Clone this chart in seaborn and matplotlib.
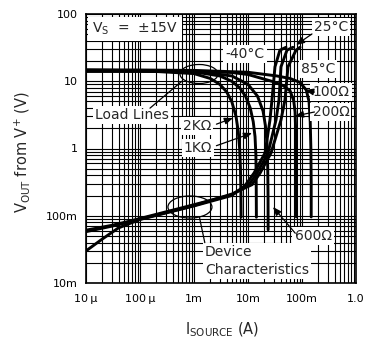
import matplotlib
matplotlib.use("Agg")
import matplotlib.pyplot as plt
from matplotlib.patches import Ellipse
from matplotlib.ticker import LogLocator, FixedLocator, FixedFormatter, NullFormatter
import seaborn as sns

# load lines (I in A, V in V)
load_2k_i = [1e-5, 1e-4, 1e-3, 2e-3, 3e-3, 4e-3, 5e-3, 6e-3, 6.6e-3, 7.0e-3, 7.25e-3, 7.4e-3, 7.45e-3]
load_2k_v = [14.6, 14.4, 13.0, 11.0, 9.0, 7.0, 5.0, 3.0, 1.8, 1.0, 0.5, 0.2, 0.095]

load_1k_i = [1e-5, 1e-4, 1e-3, 3e-3, 5e-3, 7e-3, 9e-3, 1.1e-2, 1.25e-2, 1.35e-2, 1.4e-2, 1.42e-2, 1.43e-2]
load_1k_v = [14.4, 14.3, 13.8, 12.0, 10.0, 8.0, 6.0, 4.0, 2.5, 1.5, 0.8, 0.3, 0.095]

load_600_i = [1e-5, 1e-4, 1e-3, 5e-3, 1e-2, 1.5e-2, 1.9e-2, 2.1e-2, 2.25e-2, 2.32e-2, 2.35e-2, 2.36e-2]
load_600_v = [14.2, 14.2, 14.0, 12.0, 9.0, 6.0, 3.6, 2.2, 1.2, 0.5, 0.2, 0.062]

load_200_i = [1e-5, 1e-4, 1e-3, 5e-3, 1e-2, 1.67e-2, 3e-2, 4.5e-2, 6e-2, 7e-2, 7.45e-2, 7.7e-2, 7.8e-2, 7.85e-2]
load_200_v = [14.0, 14.0, 13.9, 13.5, 12.6, 11.2, 9.8, 8.6, 7.2, 5.2, 3.5, 1.5, 0.5, 0.096]

load_100_i = [1e-5, 1e-4, 1e-3, 1e-2, 3.4e-2, 6e-2, 9.2e-2, 1.2e-1, 1.35e-1, 1.42e-1, 1.46e-1, 1.48e-1, 1.48e-1]
load_100_v = [14.8, 14.7, 14.5, 13.6, 12.0, 11.0, 9.6, 7.4, 5.0, 2.5, 1.0, 0.3, 0.096]

# device characteristics
dev_m40_i = [1e-5, 2e-5, 4e-5, 1e-4, 1e-3, 5e-3, 8.8e-3, 1.29e-2, 2.07e-2, 2.55e-2, 2.78e-2, 3.16e-2, 3.9e-2, 5.06e-2]
dev_m40_v = [0.030, 0.045, 0.066, 0.088, 0.140, 0.200, 0.280, 0.43, 0.86, 2.65, 5.3, 16.4, 29.0, 32.0]

dev_25_i = [1e-5, 3e-5, 6e-5, 1e-4, 1e-3, 5e-3, 1.04e-2, 1.47e-2, 2.35e-2, 3.3e-2, 3.75e-2, 4.08e-2, 5.27e-2, 6.8e-2]
dev_25_v = [0.061, 0.072, 0.082, 0.091, 0.146, 0.205, 0.29, 0.43, 0.86, 2.65, 5.3, 16.4, 29.0, 32.0]

dev_85_i = [1e-5, 3e-5, 6e-5, 1e-4, 1e-3, 5e-3, 1.19e-2, 1.67e-2, 2.67e-2, 4.08e-2, 4.84e-2, 5.5e-2, 7.75e-2, 9.2e-2]
dev_85_v = [0.058, 0.070, 0.080, 0.089, 0.142, 0.210, 0.29, 0.43, 0.86, 2.65, 5.3, 16.4, 29.0, 32.0]

x_ticks = [1e-5, 1e-4, 1e-3, 1e-2, 1e-1, 1.0]
x_labels = ["10\u2009\u03bc", "100\u2009\u03bc", "1m", "10m", "100m", "1.0"]
y_ticks = [1e-2, 1e-1, 1.0, 10.0, 100.0]
y_labels = ["10m", "100m", "1", "10", "100"]


def main():
    sns.set_style("white")
    plt.rcParams["font.family"] = ["DejaVu Sans"]
    plt.rcParams["mathtext.default"] = "regular"

    fig = plt.figure(figsize=(3.65, 3.5), dpi=100)
    ax = fig.add_axes([86 / 365, 1 - 283 / 350, 270 / 365, 269 / 350])
    ax.set_xscale("log")
    ax.set_yscale("log")

    curves = [
        (load_2k_i, load_2k_v), (load_1k_i, load_1k_v), (load_600_i, load_600_v),
        (load_200_i, load_200_v), (load_100_i, load_100_v),
        (dev_m40_i, dev_m40_v), (dev_25_i, dev_25_v), (dev_85_i, dev_85_v),
    ]
    for xi, yi in curves:
        sns.lineplot(x=xi, y=yi, sort=False, estimator=None, color="black",
                     lw=2.1, ax=ax, zorder=3)

    ax.set_xlim(1e-5, 1.0)
    ax.set_ylim(1e-2, 100)
    ax.xaxis.set_major_locator(FixedLocator(x_ticks))
    ax.xaxis.set_major_formatter(FixedFormatter(x_labels))
    ax.yaxis.set_major_locator(FixedLocator(y_ticks))
    ax.yaxis.set_major_formatter(FixedFormatter(y_labels))
    for axis in (ax.xaxis, ax.yaxis):
        axis.set_minor_locator(LogLocator(base=10, subs=range(2, 10), numticks=20))
        axis.set_minor_formatter(NullFormatter())
    ax.tick_params(which="both", length=0, labelsize=8, colors="black")
    ax.tick_params(axis="x", pad=8)
    ax.tick_params(axis="y", pad=6)
    ax.grid(which="both", color="black", lw=0.8)
    for s in ax.spines.values():
        s.set_color("black")
        s.set_linewidth(1.2)

    box = dict(facecolor="white", edgecolor="none", pad=1.5)
    fs = 10

    ax.text(0.022, 0.944, "$V_S$  =  \u00b115V", transform=ax.transAxes, fontsize=fs,
            ha="left", va="center", bbox=dict(facecolor="white", edgecolor="none", pad=3), zorder=5)
    ax.text(8.8e-3, 25.4, "-40\u00b0C", fontsize=fs, ha="center", va="center", bbox=box, zorder=5)
    ax.text(0.344, 64, "25\u00b0C", fontsize=fs, ha="center", va="center", bbox=box, zorder=5)
    ax.text(0.198, 15.2, "85\u00b0C", fontsize=fs, ha="center", va="center", bbox=box, zorder=5)
    ax.text(0.344, 6.9, "100\u03a9", fontsize=fs, ha="center", va="center", bbox=box, zorder=5)
    ax.text(0.344, 3.49, "200\u03a9", fontsize=fs, ha="center", va="center", bbox=box, zorder=5)
    ax.text(1.14e-3, 2.16, "2K\u03a9", fontsize=fs, ha="center", va="center", bbox=box, zorder=5)
    ax.text(1.18e-3, 1.02, "1K\u03a9", fontsize=fs, ha="center", va="center", bbox=box, zorder=5)
    ax.text(0.16, 0.05, "600\u03a9", fontsize=fs, ha="center", va="center", bbox=box, zorder=5)
    ax.text(7.1e-5, 3.15, "Load Lines", fontsize=fs, ha="center", va="center", bbox=box, zorder=5)
    ax.text(0.441, 0.082, "Device\nCharacteristics", transform=ax.transAxes, fontsize=fs,
            ha="left", va="center", linespacing=1.3, bbox=box, zorder=5)

    arrow = dict(arrowstyle="-|>,head_length=0.5,head_width=0.2", color="black", lw=0.9,
                 shrinkA=0, shrinkB=0)
    ax.annotate("", xy=(0.0775, 34.6), xytext=(0.153, 50.5), arrowprops=arrow, zorder=6)
    ax.annotate("", xy=(0.114, 7.4), xytext=(0.17, 6.9), arrowprops=arrow, zorder=6)
    ax.annotate("", xy=(0.0741, 3.04), xytext=(0.17, 3.49), arrowprops=arrow, zorder=6)
    ax.annotate("", xy=(5.27e-3, 2.84), xytext=(2.6e-3, 2.3), arrowprops=arrow, zorder=6)
    ax.annotate("", xy=(0.0119, 1.70), xytext=(2.6e-3, 1.1), arrowprops=arrow, zorder=6)
    ax.annotate("", xy=(0.029, 0.135), xytext=(0.075, 0.055), arrowprops=arrow, zorder=6)

    line = dict(arrowstyle="-", color="black", lw=0.9, shrinkA=0, shrinkB=0)
    ax.annotate("", xy=(0.355, 0.75), xytext=(0.237, 0.65), xycoords="axes fraction",
                textcoords="axes fraction", arrowprops=line, zorder=6)
    ax.annotate("", xy=(0.42, 0.245), xytext=(0.44, 0.15), xycoords="axes fraction",
                textcoords="axes fraction", arrowprops=line, zorder=6)

    ax.add_patch(Ellipse((0.4185, 0.777), 0.141, 0.0706, transform=ax.transAxes,
                         fill=False, edgecolor="black", lw=0.9, zorder=6))
    ax.add_patch(Ellipse((0.385, 0.2825), 0.163, 0.082, transform=ax.transAxes,
                         fill=False, edgecolor="black", lw=0.9, zorder=6))

    fig.text(22 / 365, 1 - 152 / 350, "$V_{OUT}$ from $V^{+}$ (V)", rotation=90,
             ha="center", va="center", fontsize=10.5)
    fig.text(222 / 365, 1 - 330 / 350, "$I_{SOURCE}$ (A)", ha="center", va="center",
             fontsize=10.5)

    fig.savefig("out.png", dpi=100)


if __name__ == "__main__":
    main()
